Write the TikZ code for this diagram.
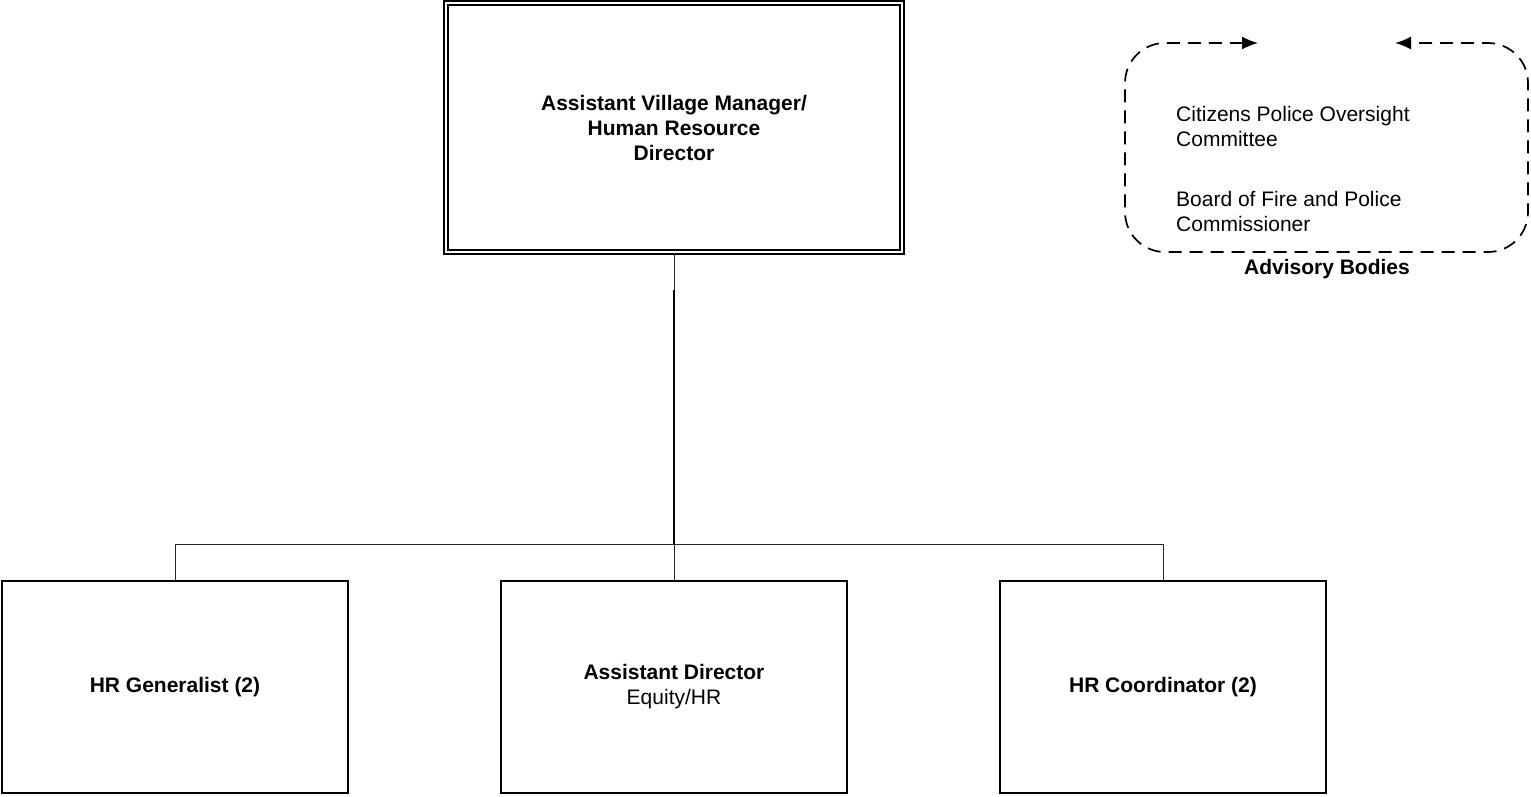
\documentclass[tikz,border=0pt]{standalone}
\usepackage{fontspec}
\setmainfont{Liberation Sans}
\usetikzlibrary{arrows.meta}
\begin{document}
\begin{tikzpicture}[x=1pt,y=-1pt,
  every node/.style={font=\fontsize{21}{25}\selectfont, inner sep=0pt},
  posbox/.style={draw, line width=1.6pt, minimum width=346pt, minimum height=212pt, align=center},
  topbox/.style={draw, double, line width=1.3pt, double distance=2.6pt, minimum width=456pt, minimum height=249pt, align=center},
  conn/.style={line width=0.9pt, draw=black!85},
  advis/.style={line width=1.7pt, dash pattern=on 13pt off 8pt, rounded corners=40pt},
  tip/.style={Latex[length=18pt,width=14pt]},
  txt/.style={align=left, anchor=west}
]
\useasboundingbox (0,0) rectangle (1531,796);

\node[topbox] (top) at (674,127.5) {\bfseries Assistant Village Manager/\\ \bfseries Human Resource\\ \bfseries Director};

\node[posbox] (gen) at (175,687) {\bfseries HR Generalist (2)};
\node[posbox] (mid) at (674,687) {\bfseries Assistant Director\\ Equity/HR};
\node[posbox, minimum width=326pt] (hrc) at (1163,687) {\bfseries HR Coordinator (2)};

\coordinate (bus) at (674,545);
\coordinate (kink) at (674,290);

\draw[conn] (top.south) -- (kink);
\draw[line width=2pt] (kink) -- (bus);
\draw[conn] (bus) -- (mid.north);
\draw[conn] (gen.north) -- ++(0,-36) -| (hrc.north);

% advisory bodies
\coordinate (al) at (1258,43);
\coordinate (ar) at (1395,43);
\draw[advis, {Latex[length=16pt,width=13pt]}-{Latex[length=16pt,width=13pt]}]
  (al) -- (1125,43) -- (1125,252) -- (1528,252) -- (1528,43) -- (ar);

\node[txt] (cpo) at (1176,126) {Citizens Police Oversight\\ Committee};
\node[txt] (bfp) at (1176,211.5) {Board of Fire and Police\\ Commissioner};
\node (adv) at (1327,269) {\bfseries Advisory Bodies};
\end{tikzpicture}
\end{document}
